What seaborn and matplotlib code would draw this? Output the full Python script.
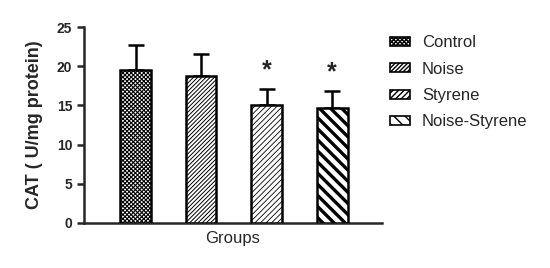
import matplotlib
matplotlib.use("Agg")
import matplotlib.pyplot as plt
import seaborn as sns
import pandas as pd
import numpy as np
from matplotlib.patches import Patch

groups = ["Control", "Noise", "Styrene", "Noise-Styrene"]
means = [19.5, 18.7, 15.0, 14.7]
sems = [3.2, 2.9, 2.1, 2.2]
significant = [False, False, True, True]
y_ticks = [0, 5, 10, 15, 20, 25]

sns.set_style("ticks")
plt.rcParams["font.family"] = ["Liberation Sans", "DejaVu Sans"]
plt.rcParams["hatch.color"] = "black"

df = pd.DataFrame({"group": groups, "mean": means})

fig = plt.figure(figsize=(5.5, 2.68), dpi=100)
ax = fig.add_axes([0.1527, 0.168, 0.5418, 0.731])

sns.barplot(data=df, x="group", y="mean", hue="group", palette=["white"] * 4,
            order=groups, hue_order=groups, errorbar=None, width=0.47,
            edgecolor="black", linewidth=1.8, legend=False, ax=ax, zorder=3)

hatches = ["xxxxxxxx", "////////", "//////", "\\\\\\"]
hatch_lw = [0.8, 0.7, 0.6, 2.4]
bars = ax.patches
for b, h, lw in zip(bars, hatches, hatch_lw):
    b.set_hatch(h)
    if hasattr(b, "set_hatch_linewidth"):
        b.set_hatch_linewidth(lw)

xs = np.arange(len(groups))
ax.errorbar(xs, means, yerr=[np.zeros(len(sems)), sems], fmt="none",
            ecolor="black", elinewidth=1.8, capsize=6, capthick=1.8, zorder=2)

for x, m, s, sig in zip(xs, means, sems, significant):
    if sig:
        ax.text(x, m + s + 0.8, "*", ha="center", va="bottom",
                fontsize=18, fontweight="bold")

ax.set_ylim(0, 25)
ax.set_yticks(y_ticks)
ax.set_xlim(-0.786, 3.76)
ax.set_xticks([])
ax.set_xlabel("Groups", fontsize=12, labelpad=6)
ax.set_ylabel("CAT ( U/mg protein)", fontsize=13, fontweight="bold", labelpad=10)
for lab in ax.get_yticklabels():
    lab.set_fontweight("bold")
ax.tick_params(axis="y", labelsize=10, width=1.8, length=5, direction="out")
sns.despine(ax=ax)
ax.spines["left"].set_linewidth(1.8)
ax.spines["bottom"].set_linewidth(1.8)

handles = []
for g, h, lw in zip(groups, hatches, hatch_lw):
    p = Patch(facecolor="white", edgecolor="black", hatch=h, linewidth=1.2, label=g)
    handles.append(p)
leg = fig.legend(handles=handles, loc="upper left", bbox_to_anchor=(0.709, 0.868),
                 frameon=False, fontsize=12, handlelength=1.2, handleheight=0.45,
                 labelspacing=0.68, handletextpad=0.72, borderpad=0, borderaxespad=0)

fig.savefig("out.png", dpi=100)
